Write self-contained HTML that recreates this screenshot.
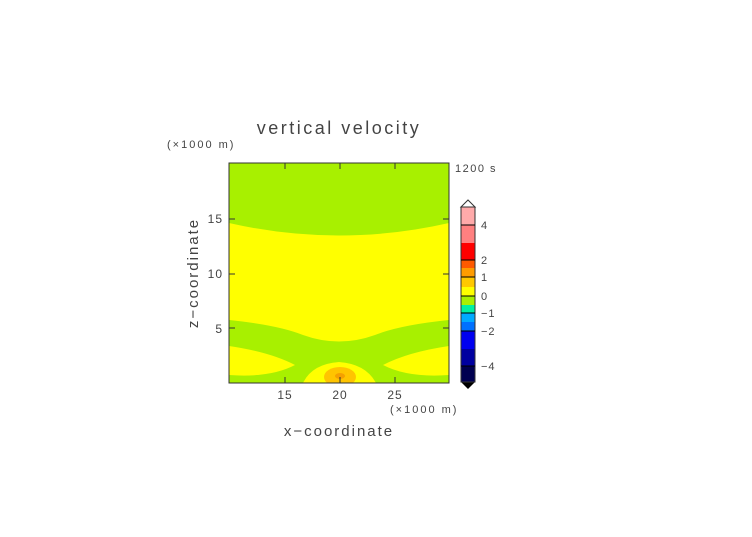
<!DOCTYPE html>
<html><head><style>
body{margin:0;background:#fff;}
svg text{font-family:"Liberation Sans",sans-serif;fill:#444;}
</style></head><body>
<svg width="752" height="532" xmlns="http://www.w3.org/2000/svg">
<defs><clipPath id="c"><rect x="229" y="163" width="220" height="220"/></clipPath></defs>
<g clip-path="url(#c)">
<rect x="229" y="163" width="220" height="220" fill="#a8f000"/>
<path d="M229,223 Q339,248 449,223 L449,320 Q400,325 375,335 Q339,348 303,335 Q278,325 229,320 Z" fill="#ffff00"/>
<path d="M229,346 Q270,352 295,365 Q270,378 229,375 Z" fill="#ffff00"/>
<path d="M449,346 Q408,352 383,365 Q408,378 449,375 Z" fill="#ffff00"/>
<path d="M303,383 Q312,364 339,362 Q366,364 376,383 Z" fill="#ffff00"/>
<ellipse cx="340" cy="377" rx="16" ry="10" fill="#ffc400"/>
<ellipse cx="340" cy="376" rx="5" ry="3" fill="#f5a000"/>
</g>
<rect x="229" y="163" width="220" height="220" fill="none" stroke="#333" stroke-width="1"/>
<g stroke="#333" stroke-width="1">
<line x1="285" y1="383" x2="285" y2="377"/><line x1="340" y1="383" x2="340" y2="377"/><line x1="395" y1="383" x2="395" y2="377"/>
<line x1="285" y1="163" x2="285" y2="169"/><line x1="340" y1="163" x2="340" y2="169"/><line x1="395" y1="163" x2="395" y2="169"/>
<line x1="229" y1="219" x2="235" y2="219"/><line x1="229" y1="274" x2="235" y2="274"/><line x1="229" y1="328" x2="235" y2="328"/>
<line x1="449" y1="219" x2="443" y2="219"/><line x1="449" y1="274" x2="443" y2="274"/><line x1="449" y1="328" x2="443" y2="328"/>
</g>
<text x="339" y="134" font-size="18" text-anchor="middle" letter-spacing="2.5">vertical velocity</text>
<text x="167" y="148" font-size="11" letter-spacing="2">(×1000 m)</text>
<text x="390" y="413" font-size="11" letter-spacing="2">(×1000 m)</text>
<text x="455" y="172" font-size="11" fill="#777" letter-spacing="1.5">1200 s</text>
<g font-size="12" text-anchor="middle" letter-spacing="1">
<text x="285" y="399">15</text><text x="340" y="399">20</text><text x="395" y="399">25</text>
</g>
<g font-size="12" text-anchor="end" letter-spacing="1">
<text x="223" y="223">15</text><text x="223" y="278">10</text><text x="223" y="333">5</text>
</g>
<text x="339" y="436" font-size="15" text-anchor="middle" letter-spacing="2">x−coordinate</text>
<text transform="translate(198,273) rotate(-90)" font-size="15" text-anchor="middle" letter-spacing="2">z−coordinate</text>
<polygon points="461,207 468,200 475,207" fill="#fff" stroke="#333"/>
<rect x="461" y="207" width="14" height="18" fill="#ffaaaa"/>
<rect x="461" y="225" width="14" height="18" fill="#ff8080"/>
<rect x="461" y="243" width="14" height="17" fill="#ff0000"/>
<rect x="461" y="260" width="14" height="8" fill="#ff5a00"/>
<rect x="461" y="268" width="14" height="9" fill="#ff9c00"/>
<rect x="461" y="277" width="14" height="10" fill="#ffc800"/>
<rect x="461" y="287" width="14" height="9" fill="#ffff00"/>
<rect x="461" y="296" width="14" height="9" fill="#a8f000"/>
<rect x="461" y="305" width="14" height="8" fill="#00f0a0"/>
<rect x="461" y="313" width="14" height="9" fill="#00aaff"/>
<rect x="461" y="322" width="14" height="9" fill="#0070ff"/>
<rect x="461" y="331" width="14" height="18" fill="#0000f0"/>
<rect x="461" y="349" width="14" height="17" fill="#0000a0"/>
<rect x="461" y="366" width="14" height="16" fill="#000050"/>
<polygon points="461,382 468,389 475,382" fill="#000"/>
<rect x="461" y="207" width="14" height="175" fill="none" stroke="#333"/>
<g stroke="#000" stroke-width="1">
<line x1="461" y1="225" x2="475" y2="225"/><line x1="461" y1="260" x2="475" y2="260"/><line x1="461" y1="277" x2="475" y2="277"/>
<line x1="461" y1="296" x2="475" y2="296"/><line x1="461" y1="313" x2="475" y2="313"/><line x1="461" y1="331" x2="475" y2="331"/><line x1="461" y1="366" x2="475" y2="366"/>
</g>
<g font-size="11" letter-spacing="1">
<text x="481" y="229">4</text><text x="481" y="264">2</text><text x="481" y="281">1</text><text x="481" y="300">0</text>
<text x="481" y="317">−1</text><text x="481" y="335">−2</text><text x="481" y="370">−4</text>
</g>
</svg>
</body></html>
